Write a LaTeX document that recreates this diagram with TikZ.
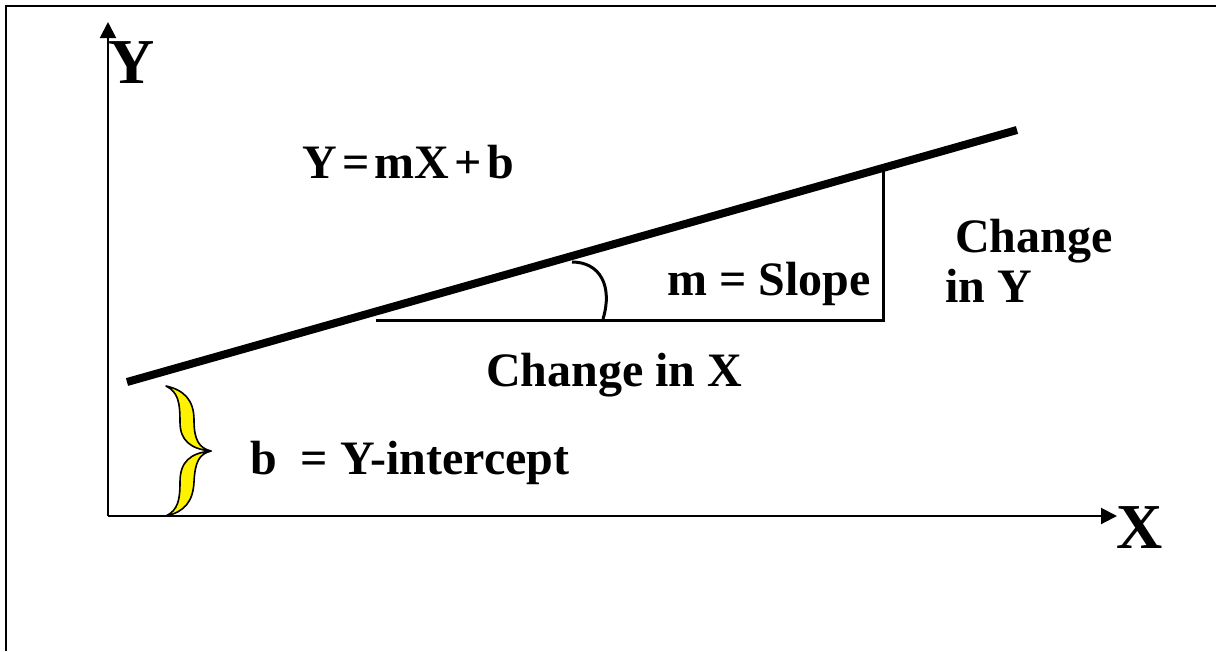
\documentclass[tikz,border=0pt]{standalone}
\usepackage{fontspec}
\setmainfont{Liberation Serif}
\usetikzlibrary{arrows.meta}
\tikzset{
  lbl/.style={inner sep=0pt, anchor=base west, font=\fontsize{36}{42}\selectfont\bfseries},
  axlbl/.style={inner sep=0pt, anchor=base, font=\fontsize{48}{56}\selectfont\bfseries},
  axis/.style={line width=1.5pt, -{Triangle[length=12pt,width=12pt]}},
  border/.style={line width=1.5pt},
  fitline/.style={line width=6pt},
  tri/.style={line width=2.25pt},
  brace/.style={fill=yellow, draw=black, line width=1.2pt, line join=round}
}
\begin{document}
\begin{tikzpicture}[x=0.75pt, y=-0.75pt]
\useasboundingbox (0,0) rectangle (1216,651);
% border
\coordinate (bl) at (6,651);
\coordinate (tl) at (6,6);
\coordinate (tr) at (1216,6);
\draw[border] (bl) -- (tl) -- (tr);
% axes
\coordinate (O) at (108,516);
\coordinate (ytop) at (108,22);
\coordinate (xend) at (1117,516);
\draw[axis] (O) -- (ytop);
\draw[axis] (O) -- (xend);
\node[axlbl] (ylab) at (132,83) {Y};
\node[axlbl] (xlab) at (1140,548) {X};
% fitted line
\coordinate (L1) at (127,382);
\coordinate (L2) at (1017,130);
\draw[fitline] (L1) -- (L2);
% slope triangle
\coordinate (A) at (376,320);
\coordinate (B) at (883,320);
\coordinate (C) at (883,167);
\draw[tri] (A) -- (B) -- (C);
% angle arc
\coordinate (a1) at (572,262);
\coordinate (a2) at (603,319);
\draw[tri] (a1) .. controls (600,262) and (613,286) .. (a2);
% brace
\draw[brace] (166,386) .. controls (184,390) and (194,400) .. (194,420)
  .. controls (194,440) and (199,448) .. (211,451)
  .. controls (190,449) and (180,440) .. (180,422)
  .. controls (180,402) and (178,392) .. (166,386) -- cycle;
\draw[brace] (211,451) .. controls (199,454) and (195,462) .. (194,482)
  .. controls (193,502) and (184,512) .. (166,516)
  .. controls (178,510) and (180,500) .. (180,482)
  .. controls (180,462) and (190,453) .. (211,451) -- cycle;
% labels
\node[lbl] (eq) at (302,178) {Y\hspace{0.11em}=\hspace{0.11em}mX\hspace{0.11em}+\hspace{0.11em}b};
\node[lbl] (slope) at (667,295) {m = Slope};
\node[lbl] (dx) at (486,386) {Change in X};
\node[lbl] (b) at (250,474) {b\ \ = Y-intercept};
\node[lbl] (dy1) at (955,252) {Change};
\node[lbl] (dy2) at (945,302) {in Y};
\end{tikzpicture}
\end{document}
